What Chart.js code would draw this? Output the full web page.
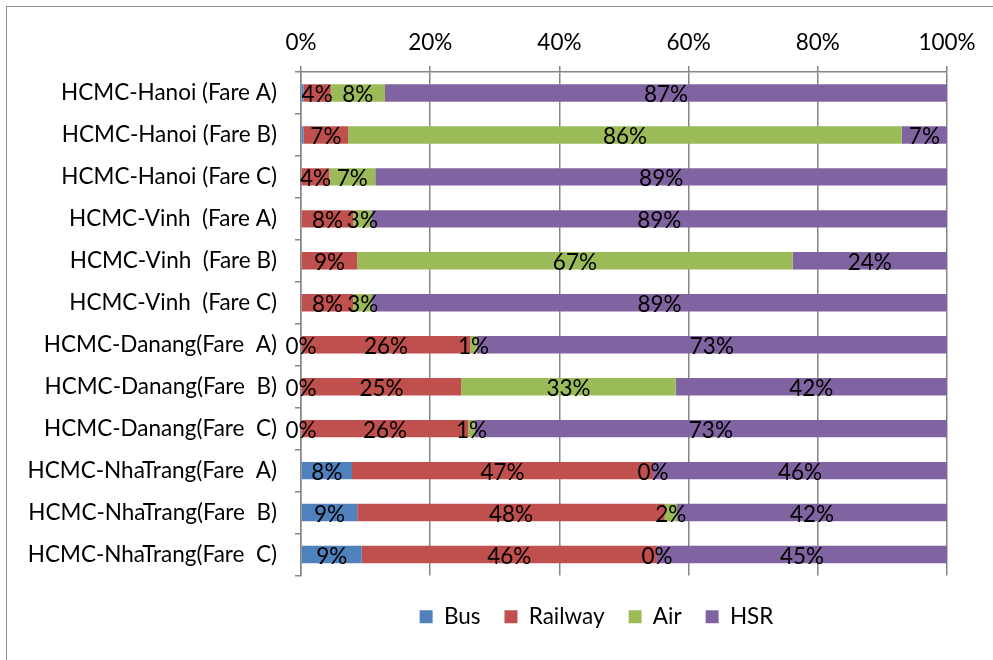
<!DOCTYPE html>
<html>
<head>
<meta charset="utf-8">
<title>Mode share by route and fare</title>
<script src="https://cdn.jsdelivr.net/npm/chart.js@4.4.1/dist/chart.umd.min.js"></script>
<style>
  html, body { margin: 0; padding: 0; background: #fff; overflow: hidden; }
  #wrap { position: relative; width: 993px; height: 660px; overflow: hidden; }
  #frame { position: absolute; left: 6px; top: 6px; width: 1100px; height: 1000px;
           border: 1.5px solid #8c8c8c; box-sizing: border-box; }
  canvas { position: absolute; left: 0; top: 0; }
</style>
</head>
<body>
<div id="wrap">
  <div id="frame"></div>
  <canvas id="c" width="993" height="660"></canvas>
</div>
<script>
// Routes and fare scenarios (top to bottom)
const categories = [
  'HCMC-Hanoi (Fare A)', 'HCMC-Hanoi (Fare B)', 'HCMC-Hanoi (Fare C)',
  'HCMC-Vinh  (Fare A)', 'HCMC-Vinh  (Fare B)', 'HCMC-Vinh  (Fare C)',
  'HCMC-Danang(Fare  A)', 'HCMC-Danang(Fare  B)', 'HCMC-Danang(Fare  C)',
  'HCMC-NhaTrang(Fare  A)', 'HCMC-NhaTrang(Fare  B)', 'HCMC-NhaTrang(Fare  C)'
];

// Mode shares, percent
const bus     = [0.4, 0.4, 0,   0,   0,    0,   0,    0,    0,    7.9,  8.7,  9.4];
const railway = [4.2, 6.9, 4.4, 8.1, 8.7,  8.1, 26.2, 24.8, 25.9, 46.6, 47.6, 45.7];
const air     = [8.4, 85.7, 7.1, 2.8, 67.4, 2.9, 1.0,  33.2, 1.0,  0,    1.9,  0];
const hsr     = [87.0, 7.0, 88.5, 89.1, 23.9, 89.0, 72.8, 42.0, 73.1, 45.5, 41.8, 44.9];

// Percentage axis ticks
const xTicks = [0, 20, 40, 60, 80, 100];

// Rows where the bus share carries no value label
const busUnlabelled = [0, 1, 2, 3, 4, 5];

const FONT = 'Lato, "Open Sans", sans-serif';
const FSIZE = 22.5;
const GRID = '#868686';

const valueLabels = {
  id: 'valueLabels',
  afterDatasetsDraw(chart) {
    const ctx = chart.ctx;
    ctx.save();
    ctx.font = FSIZE + 'px ' + FONT;
    ctx.fillStyle = '#000';
    ctx.textAlign = 'center';
    ctx.textBaseline = 'middle';
    chart.data.datasets.forEach((ds, di) => {
      const meta = chart.getDatasetMeta(di);
      meta.data.forEach((el, i) => {
        const v = ds.data[i];
        if (v === null || v === undefined) return;
        if (ds.hiddenLabels && ds.hiddenLabels.includes(i)) return;
        const p = el.getProps(['x', 'y', 'base'], true);
        ctx.fillText(Math.round(v) + '%', (p.x + p.base) / 2, p.y + 2);
      });
    });
    ctx.restore();
  }
};

// Keep the legend centred under the plot region
const legendShift = {
  id: 'legendShift',
  afterLayout(chart) {
    const lg = chart.legend;
    if (!lg) return;
    const dx = 596.5 - (lg.left + lg.right) / 2;
    lg.left += dx; lg.right += dx;
    lg.top += 6; lg.bottom += 6;
  }
};

new Chart(document.getElementById('c'), {
  type: 'bar',
  data: {
    labels: categories,
    datasets: [
      { label: 'Bus', data: bus, backgroundColor: '#4F81BD', hiddenLabels: busUnlabelled },
      { label: 'Railway', data: railway, backgroundColor: '#C0504D' },
      { label: 'Air', data: air, backgroundColor: '#9BBB59' },
      { label: 'HSR', data: hsr, backgroundColor: '#8064A2' }
    ]
  },
  options: {
    indexAxis: 'y',
    responsive: false,
    animation: false,
    devicePixelRatio: 1,
    categoryPercentage: 1,
    barPercentage: 0.415,
    layout: { padding: { left: 0, right: 46, top: 0, bottom: 28 } },
    scales: {
      x: {
        position: 'top',
        stacked: true,
        min: 0, max: 100,
        afterBuildTicks(scale) { scale.ticks = xTicks.map(v => ({ value: v })); },
        afterFit(scale) { scale.height = 72; },
        grid: { color: GRID, lineWidth: 1.5, tickLength: 6, drawTicks: true },
        border: { color: GRID, width: 1.5 },
        ticks: {
          color: '#000', font: { family: FONT, size: FSIZE }, padding: 10,
          callback: v => v + '%'
        }
      },
      y: {
        stacked: true,
        afterFit(scale) { scale.width = 301; },
        grid: { offset: true, drawOnChartArea: false, color: GRID, lineWidth: 1.5, tickLength: 6 },
        border: { color: GRID, width: 1.5 },
        ticks: { color: '#000', font: { family: FONT, size: FSIZE }, padding: 18, autoSkip: false }
      }
    },
    plugins: {
      legend: {
        position: 'bottom',
        labels: {
          color: '#000', font: { family: FONT, size: FSIZE },
          boxWidth: 13, boxHeight: 13, padding: 24
        }
      },
      tooltip: { enabled: false }
    }
  },
  plugins: [valueLabels, legendShift]
});
</script>
</body>
</html>
